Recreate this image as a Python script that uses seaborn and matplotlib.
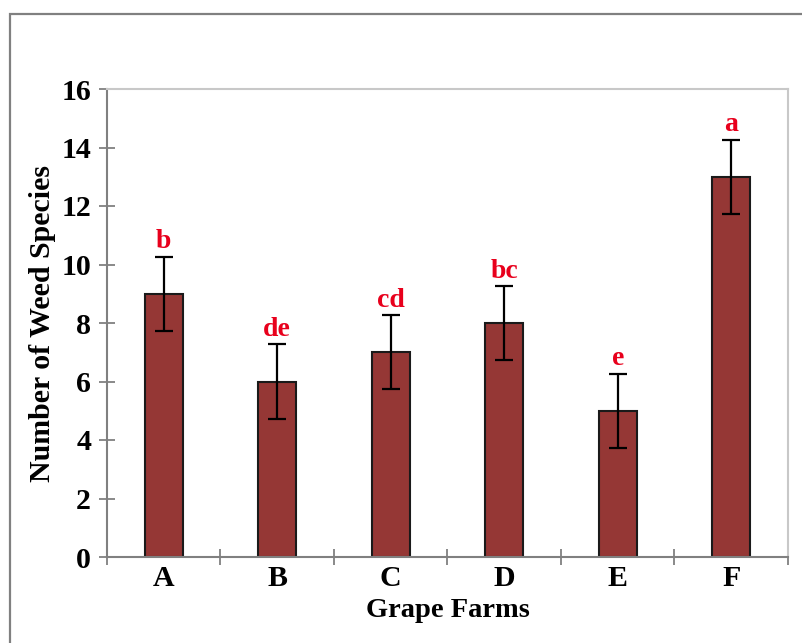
import matplotlib
matplotlib.use("Agg")
import matplotlib.pyplot as plt
import seaborn as sns
import pandas as pd
from matplotlib.patches import Rectangle

farms = ["A", "B", "C", "D", "E", "F"]
species = [9, 6, 7, 8, 5, 13]
errors = [1.27, 1.27, 1.27, 1.27, 1.27, 1.27]
letters = ["b", "de", "cd", "bc", "e", "a"]
yticks = [0, 2, 4, 6, 8, 10, 12, 14, 16]

sns.set_theme(style="white")
plt.rcParams["font.family"] = ["Liberation Serif", "DejaVu Serif"]
plt.rcParams["font.weight"] = "bold"
plt.rcParams["text.color"] = "black"
plt.rcParams["axes.labelcolor"] = "black"
plt.rcParams["xtick.color"] = "black"
plt.rcParams["ytick.color"] = "black"

df = pd.DataFrame({"farm": farms, "species": species})

fig = plt.figure(figsize=(8.03, 6.43), dpi=100)
ax = fig.add_axes([107/803, 1-557/643, (788-107)/803, (557-89)/643])

sns.barplot(data=df, x="farm", y="species", color="#953735", edgecolor="#1a1a1a",
            linewidth=1.5, width=0.335, saturation=1, ax=ax)
ax.errorbar(range(len(farms)), species, yerr=errors, fmt="none", ecolor="black",
            elinewidth=1.6, capsize=6.5, capthick=1.6, zorder=5)

for i, (v, e, l) in enumerate(zip(species, errors, letters)):
    ax.text(i, v + e + 0.08, l, ha="center", va="bottom", color="#E8001C",
            fontsize=20, fontweight="bold")

ax.set_ylim(0, 16)
ax.set_xlim(-0.5, len(farms) - 0.5)
ax.set_yticks(yticks)
ax.set_yticklabels([str(t) for t in yticks], fontsize=21.5, fontweight="bold", color="black")
ax.set_xticks(range(len(farms)))
ax.set_xticklabels(farms, fontsize=21.5, fontweight="bold", color="black")
ax.set_xticks([i - 0.5 for i in range(len(farms) + 1)], minor=True)
ax.tick_params(axis="x", which="major", length=0, pad=6, bottom=True)
ax.tick_params(axis="x", which="minor", direction="inout", length=12, width=1.3,
               color="#808080", bottom=True)
ax.tick_params(axis="y", which="major", direction="inout", length=11, width=1.3,
               color="#808080", pad=6, left=True)

ax.set_xlabel("Grape Farms", fontsize=20.5, fontweight="bold", labelpad=4, color="black")
ax.set_ylabel("Number of Weed Species", fontsize=21.5, fontweight="bold", labelpad=4, color="black")

for s in ["left", "bottom"]:
    ax.spines[s].set_color("#808080")
    ax.spines[s].set_linewidth(1.5)
for s in ["top", "right"]:
    ax.spines[s].set_color("#c8c8c8")
    ax.spines[s].set_linewidth(1.5)
    ax.spines[s].set_visible(True)

fig.patches.append(Rectangle((10/803, -0.1), 1.2, 1 - 14/643 + 0.1, transform=fig.transFigure,
                             fill=False, edgecolor="#808080", linewidth=1.6, zorder=0))

fig.savefig("out.png", dpi=100, facecolor="white")
